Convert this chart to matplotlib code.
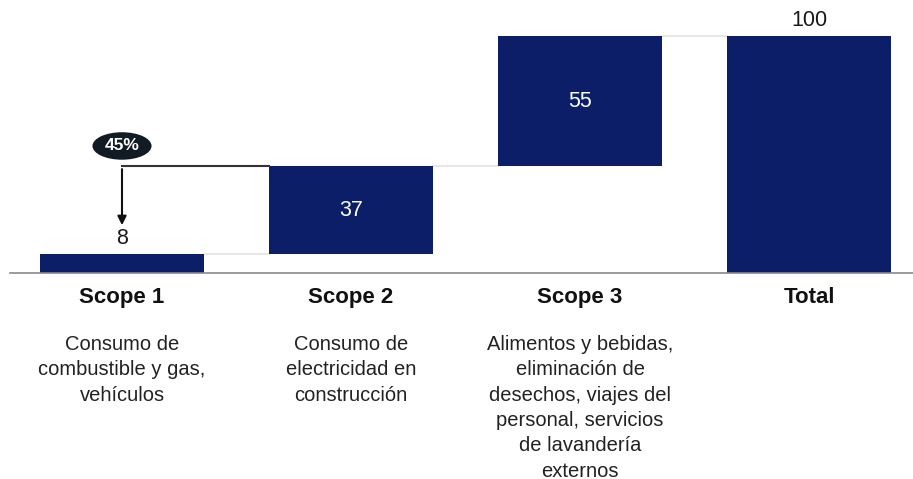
import matplotlib
matplotlib.use("Agg")
import matplotlib.pyplot as plt
from matplotlib.patches import Ellipse
import numpy as np

plt.rcParams.update({"font.family": ["Liberation Sans", "DejaVu Sans"]})

# ---- data ----
categories = ["Scope 1", "Scope 2", "Scope 3", "Total"]
values = [8, 37, 55, 100]
descriptions = [
    "Consumo de\ncombustible y gas,\nvehículos",
    "Consumo de\nelectricidad en\nconstrucción",
    "Alimentos y bebidas,\neliminación de\ndesechos, viajes del\npersonal, servicios\nde lavandería\nexternos",
    "",
]
badge_pct = values[0] + values[1]

NAVY = "#0c1e68"
GRID = "#e3e3e3"

fig = plt.figure(figsize=(9.13, 4.79), dpi=100)
ax = fig.add_axes([0, 0, 1, 1])
ax.axis("off")
# pixel mapping: bar centres every 229 px from x=122, baseline at y=273, 2.37 px per unit
ax.set_xlim(-122 / 229, (913 - 122) / 229)
ax.set_ylim(-(479 - 273) / 2.37, 273 / 2.37)

x = np.arange(len(categories))
bottoms = np.concatenate([[0], np.cumsum(values[:-2])])
bottoms = np.append(bottoms, 0)
w = 0.712
ax.bar(x, values, bottom=bottoms, width=w, color=NAVY, zorder=3)

# connectors between steps
tops = bottoms + np.array(values)
for i in range(len(categories) - 1):
    ax.plot([x[i] + w / 2, x[i + 1] - w / 2], [tops[i], tops[i]],
            color=GRID, lw=1.2, zorder=1)

# baseline
ax.plot([-0.49, 3.5], [0, 0], color="#8a8a8a", lw=1.2, zorder=4)

# value labels
fs_val = 15.5
ax.text(x[0], tops[0] + 2.0, str(values[0]), ha="center", va="bottom", fontsize=fs_val, color="#1a1a1a")
ax.text(x[1], bottoms[1] + values[1] / 2, str(values[1]), ha="center", va="center", fontsize=fs_val, color="white", zorder=5)
ax.text(x[2], bottoms[2] + values[2] / 2, str(values[2]), ha="center", va="center", fontsize=fs_val, color="white", zorder=5)
ax.text(x[3], tops[3] + 2.3, str(values[3]), ha="center", va="bottom", fontsize=fs_val, color="#1a1a1a")

# 45% bracket + arrow
ax.plot([x[0], x[1] - w / 2], [badge_pct, badge_pct], color="#333333", lw=1.5, zorder=4)
ax.annotate("", xy=(x[0], 19), xytext=(x[0], badge_pct),
            arrowprops=dict(arrowstyle="-|>", color="#111111", lw=1.5, mutation_scale=13))
ax.add_patch(Ellipse((x[0], 53.6), 0.258, 11.6, fc="#121a24", ec="none", zorder=6))
ax.text(x[0], 53.6, f"{badge_pct}%", ha="center", va="center", fontsize=12.5,
        fontweight="bold", color="white", zorder=7)

# category labels and descriptions
for xi, cat, desc in zip(x, categories, descriptions):
    ax.text(xi, -10.3, cat, ha="center", va="center", fontsize=16, fontweight="bold", color="#111111")
    if desc:
        ax.text(xi, -26.2, desc, ha="center", va="top", fontsize=14.5, color="#222222",
                linespacing=1.42)

fig.savefig("out.png", dpi=100)
